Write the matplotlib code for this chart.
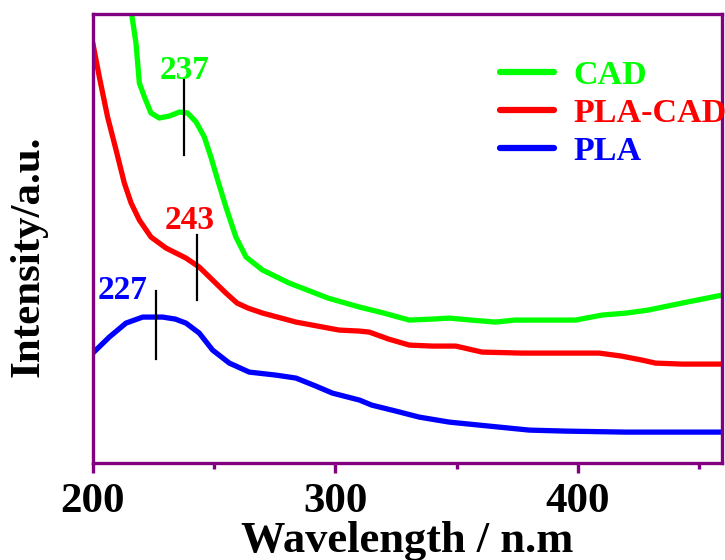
import matplotlib
matplotlib.use('Agg')
import matplotlib.pyplot as plt

plt.rcParams['font.family'] = ['Liberation Serif', 'DejaVu Serif']
plt.rcParams['font.weight'] = 'bold'

# UV-vis spectra (intensity in arbitrary units)
cad_x = [215.6, 216.2, 217.8, 219.2, 221.3, 224.0, 227.4, 231.6, 235.7, 239.1, 242.6, 246.0,
         248.7, 251.5, 254.9, 259.0, 263.2, 270.0, 281.0, 297, 310, 320, 330.5, 340, 347,
         356, 366, 374, 390, 399, 410, 420, 429, 443, 459.5]
cad_y = [460, 446, 420, 380, 366, 350, 345, 347, 351, 350, 341, 326,
         306, 283, 256, 226, 206, 193, 180, 165, 156, 150, 143, 144, 145,
         143, 141, 143, 143, 143, 148, 150, 153, 160, 168]

placad_x = [200, 202.7, 206.1, 209.6, 213.0, 215.8, 219.2, 224.0, 230.2, 238.4, 243.9, 249.4,
            254.9, 259.5, 264, 270, 283.8, 301.6, 310, 314, 322, 330.5, 340, 349.7, 360.5,
            377, 408.8, 418, 426.5, 432, 443, 459.5]
placad_y = [420, 386, 346, 313, 280, 260, 243, 226, 215, 205, 196, 183,
            170, 160, 155, 150, 141, 133, 132, 131, 124, 118, 117, 117, 111,
            110, 110, 107, 103, 100, 99, 99]

pla_x = [200, 206.8, 213.7, 220.6, 228.8, 234, 238.4, 243.9, 249.4, 256.3, 264.5, 275.5,
         283.8, 292, 298.8, 310, 315, 325, 334.6, 347, 367.6, 380, 395, 419.7, 459.5]
pla_y = [110, 126, 140, 146, 146, 144, 140, 130, 113, 100, 91, 88,
         85, 77, 70, 63, 58, 52, 46, 41, 36, 33, 32, 31, 31]

series = [('CAD', cad_x, cad_y, '#00ff00'),
          ('PLA-CAD', placad_x, placad_y, '#ff0000'),
          ('PLA', pla_x, pla_y, '#0000ff')]

# peak marks: (label, position of bar, bar bottom, bar top, text x, text y, colour)
peaks = [('237', 237.5, 308, 383, 237.7, 384, '#00ff00'),
         ('243', 243, 163, 228, 239.8, 234, '#ff0000'),
         ('227', 226, 104, 172, 212.2, 164, '#0000ff')]

purple = '#800080'

fig = plt.figure(figsize=(7.25, 5.6), dpi=100)
ax = fig.add_axes([0.128, 0.173, 0.868, 0.802])

for name, xs, ys, c in series:
    ax.plot(xs, ys, color=c, lw=3.8, label=name,
            solid_capstyle='round', solid_joinstyle='round')

for txt, xp, y0, y1, tx, ty, c in peaks:
    ax.plot([xp, xp], [y0, y1], color='black', lw=1.6)
    ax.text(tx, ty, txt, color=c, fontsize=24, fontweight='bold',
            ha='center', va='baseline')

ax.set_xlim(200, 459.5)
ax.set_ylim(0, 449)
ax.set_xticks([200, 300, 400])
ax.set_xticks([250, 350, 450], minor=True)
ax.set_yticks([])
for sp in ax.spines.values():
    sp.set_color(purple)
    sp.set_linewidth(2.4)
ax.tick_params(axis='x', which='major', direction='out', length=7, width=2.4,
               color=purple, labelsize=31, pad=7)
ax.tick_params(axis='x', which='minor', direction='out', length=4, width=2.4, color=purple)

ax.set_xlabel('Wavelength / n.m', fontsize=32, fontweight='bold', labelpad=0)
ax.set_ylabel('Intensity/a.u.', fontsize=31, fontweight='bold')
ax.yaxis.set_label_coords(-0.072, 0.46)

leg = ax.legend(loc='upper left', bbox_to_anchor=(0.647, 0.897), frameon=False,
                fontsize=24.5, handlelength=1.6, handletextpad=0.55, borderpad=0,
                borderaxespad=0, labelspacing=0.2, labelcolor='linecolor')
for h in leg.get_lines():
    h.set_linewidth(4.5)

fig.savefig('out.png', dpi=100)
